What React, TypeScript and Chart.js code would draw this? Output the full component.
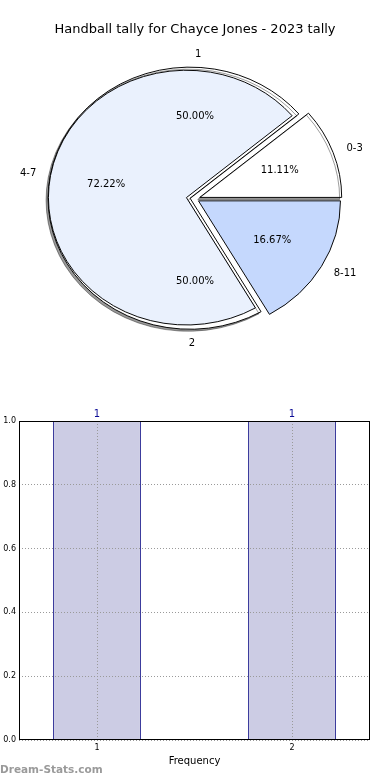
import React, { useEffect, useRef } from "react";
import { Chart, registerables } from "chart.js";

Chart.register(...registerables);

// ---------------- data ----------------
const chartTitle = "Handball tally for Chayce Jones - 2023 tally";
const pieLabels = ["0-3", "4-7", "8-11"];
const pieCounts = [2, 13, 3];
const subLabels = ["1", "2"];
const subCounts = [1, 1];
const barCategories = [1, 2];
const barValues = [1, 1];
const yTickValues = [0, 0.2, 0.4, 0.6, 0.8, 1.0];
const xTickValues = [1, 2];
const xAxisTitle = "Frequency";
const watermark = "Dream-Stats.com";

// ---------------- style ----------------
const FONT = "'DejaVu Sans', sans-serif";
const pieColors = ["#ffffff", "#eaf1fd", "#c5d8fd"];
const innerColor = "#eaf1fd";
const explodePx = [5, 5, 4];
const W = 390;
const PIE_H = 360;
const TITLE_BLOCK = 38;
const R = 142;
const Y_SQUASH = 0.923;
const CX = W / 2;
const CY = (TITLE_BLOCK + PIE_H) / 2;

const sum = (a: number[]) => a.reduce((s, v) => s + v, 0);
const rev = (a: any[]) => a.slice().reverse();
const midAngles = (counts: number[]) => {
  const t = sum(counts);
  let cum = 0;
  return counts.map((c) => {
    const m = ((cum + c / 2) / t) * 2 * Math.PI;
    cum += c;
    return m;
  });
};

const squashPlugin = {
  id: "squash",
  beforeDatasetsDraw(chart: any, _args: any, opts: any) {
    const arc = chart.getDatasetMeta(0).data[0];
    const ctx = chart.ctx;
    ctx.save();
    ctx.translate(arc.x, arc.y);
    ctx.scale(1, Y_SQUASH);
    ctx.translate(-arc.x, -arc.y);
    if (opts && opts.shadow) {
      ctx.shadowColor = "rgba(0,0,0,0.4)";
      ctx.shadowOffsetX = -2;
      ctx.shadowOffsetY = 2;
      ctx.shadowBlur = 0;
    }
  },
  afterDatasetsDraw(chart: any) {
    chart.ctx.restore();
  },
};

const pieTextPlugin = {
  id: "pieText",
  afterDraw(chart: any) {
    const ctx = chart.ctx;
    const total = sum(pieCounts);
    const mids = midAngles(pieCounts);
    ctx.save();
    ctx.fillStyle = "#000";
    ctx.textBaseline = "middle";
    ctx.textAlign = "center";
    ctx.font = `13px ${FONT}`;
    ctx.fillText(chartTitle, CX, 30);
    ctx.font = `10px ${FONT}`;
    mids.forEach((th, i) => {
      const e = explodePx[i];
      const c = Math.cos(th);
      const s = Math.sin(th);
      const ox = CX + e * c;
      const oy = CY - e * s * Y_SQUASH;
      ctx.textAlign = c > 0 ? "left" : "right";
      ctx.fillText(pieLabels[i], ox + 1.1 * R * c, oy - 1.1 * R * s * Y_SQUASH);
      ctx.textAlign = "center";
      ctx.fillText(((100 * pieCounts[i]) / total).toFixed(2) + "%", ox + 0.6 * R * c, oy - 0.6 * R * s * Y_SQUASH);
    });
    const subTotal = sum(subCounts);
    midAngles(subCounts).forEach((th, i) => {
      const c = Math.cos(th);
      const s = Math.sin(th);
      ctx.textAlign = c > 0 ? "left" : "right";
      ctx.fillText(subLabels[i], CX + 1.1 * R * c, CY - 1.1 * R * s * Y_SQUASH);
      ctx.textAlign = "center";
      ctx.fillText(((100 * subCounts[i]) / subTotal).toFixed(2) + "%", CX + 0.63 * R * c, CY - 0.63 * R * s * Y_SQUASH);
    });
    ctx.restore();
  },
};

type Layer = { index: number; radius: number; explode: number; fill: string; shadow: boolean; text?: boolean };

function pieConfig(layer: Layer): any {
  const th = midAngles(pieCounts)[layer.index];
  const dx = layer.explode * Math.cos(th);
  const dy = -layer.explode * Math.sin(th) * Y_SQUASH;
  const padding = {
    left: Math.max(dx, 0) * 2,
    right: Math.max(-dx, 0) * 2,
    top: TITLE_BLOCK + Math.max(dy, 0) * 2,
    bottom: Math.max(-dy, 0) * 2,
  };
  const bg = pieCounts.map((_, i) => (i === layer.index ? layer.fill : "rgba(0,0,0,0)"));
  const bw = pieCounts.map((_, i) => (i === layer.index ? 1 : 0));
  return {
    type: "pie",
    data: {
      labels: rev(pieLabels),
      datasets: [
        {
          data: rev(pieCounts),
          backgroundColor: rev(bg),
          borderColor: "#000000",
          borderWidth: rev(bw),
          borderJoinStyle: "miter",
        },
      ],
    },
    options: {
      responsive: false,
      animation: false,
      events: [],
      rotation: 90,
      radius: layer.radius,
      layout: { padding },
      plugins: {
        legend: { display: false },
        tooltip: { enabled: false },
        title: { display: false },
        squash: { shadow: layer.shadow },
      },
    },
    plugins: layer.text ? [squashPlugin, pieTextPlugin] : [squashPlugin],
  };
}

const framePlugin = {
  id: "frame",
  afterDraw(chart: any) {
    const { ctx, chartArea: a } = chart;
    ctx.save();
    ctx.strokeStyle = "#000";
    ctx.lineWidth = 1;
    ctx.strokeRect(a.left + 0.5, a.top + 0.5, a.right - a.left - 1, a.bottom - a.top - 1);
    ctx.restore();
  },
};

const barLabelPlugin = {
  id: "barLabels",
  afterDraw(chart: any) {
    const ctx = chart.ctx;
    const meta = chart.getDatasetMeta(0);
    ctx.save();
    ctx.font = `10px ${FONT}`;
    ctx.fillStyle = "#0c0c96";
    ctx.textAlign = "center";
    ctx.textBaseline = "bottom";
    meta.data.forEach((bar: any, i: number) => {
      ctx.fillText(String(barValues[i]), bar.x, bar.y - 2);
    });
    ctx.restore();
  },
};

function barConfig(): any {
  const tickFont = { family: FONT, size: 8 };
  const grid = { color: "#9a9a9a", lineWidth: 1, drawTicks: false, offset: false, z: 1 };
  return {
    type: "bar",
    data: {
      datasets: [
        {
          data: barCategories.map((x, i) => ({ x, y: barValues[i] })),
          backgroundColor: "rgb(204,204,228)",
          borderColor: "#00007f",
          borderWidth: 1,
          borderSkipped: "start",
          categoryPercentage: 1,
          barPercentage: 0.45,
        },
      ],
    },
    options: {
      responsive: false,
      animation: false,
      events: [],
      layout: { padding: { top: 31, right: 20, left: 0, bottom: 0 } },
      plugins: { legend: { display: false }, tooltip: { enabled: false } },
      scales: {
        x: {
          type: "linear",
          min: 0.6,
          max: 2.4,
          offset: false,
          afterBuildTicks: (s: any) => {
            s.ticks = xTickValues.map((v) => ({ value: v }));
          },
          afterFit: (s: any) => {
            s.height = 40;
          },
          ticks: { font: tickFont, color: "#000", padding: 3, callback: (v: any) => String(v) },
          grid,
          border: { display: false, dash: [1, 2] },
          title: {
            display: true,
            text: xAxisTitle,
            color: "#000",
            font: { family: FONT, size: 10 },
            padding: { top: 0, bottom: 13 },
          },
        },
        y: {
          min: 0,
          max: 1,
          afterBuildTicks: (s: any) => {
            s.ticks = yTickValues.map((v) => ({ value: v }));
          },
          afterFit: (s: any) => {
            s.width = 19;
          },
          ticks: { font: tickFont, color: "#000", padding: 3, callback: (v: any) => Number(v).toFixed(1) },
          grid,
          border: { display: false, dash: [1, 2] },
        },
      },
    },
    plugins: [framePlugin, barLabelPlugin],
  };
}

const layers: Layer[] = [
  { index: 2, radius: R, explode: explodePx[2], fill: pieColors[2], shadow: false },
  { index: 0, radius: R, explode: explodePx[0], fill: pieColors[0], shadow: true },
  { index: 1, radius: R, explode: explodePx[1], fill: "#ffffff", shadow: true },
  { index: 1, radius: 138, explode: 8.7, fill: innerColor, shadow: false, text: true },
];

export default function App() {
  const pieRefs = [useRef<HTMLCanvasElement>(null), useRef<HTMLCanvasElement>(null), useRef<HTMLCanvasElement>(null), useRef<HTMLCanvasElement>(null)];
  const barRef = useRef<HTMLCanvasElement>(null);

  useEffect(() => {
    document.body.style.margin = "0";
    const charts: Chart[] = [];
    layers.forEach((layer, i) => {
      const c = pieRefs[i].current;
      if (c) charts.push(new Chart(c, pieConfig(layer)));
    });
    if (barRef.current) charts.push(new Chart(barRef.current, barConfig()));
    return () => charts.forEach((c) => c.destroy());
  }, []);

  return (
    <div style={{ position: "relative", width: W, height: 780, background: "#fff", overflow: "hidden" }}>
      {layers.map((_, i) => (
        <canvas key={i} ref={pieRefs[i]} width={W} height={PIE_H} style={{ position: "absolute", left: 0, top: 0 }} />
      ))}
      <canvas ref={barRef} width={W} height={390} style={{ position: "absolute", left: 0, top: 390 }} />
      <div
        style={{
          position: "absolute",
          left: 0,
          top: 762,
          fontFamily: FONT,
          fontSize: "10.5px",
          fontWeight: "bold",
          color: "#9a9a9a",
          lineHeight: "14px",
          whiteSpace: "nowrap",
        }}
      >
        {watermark}
      </div>
    </div>
  );
}
